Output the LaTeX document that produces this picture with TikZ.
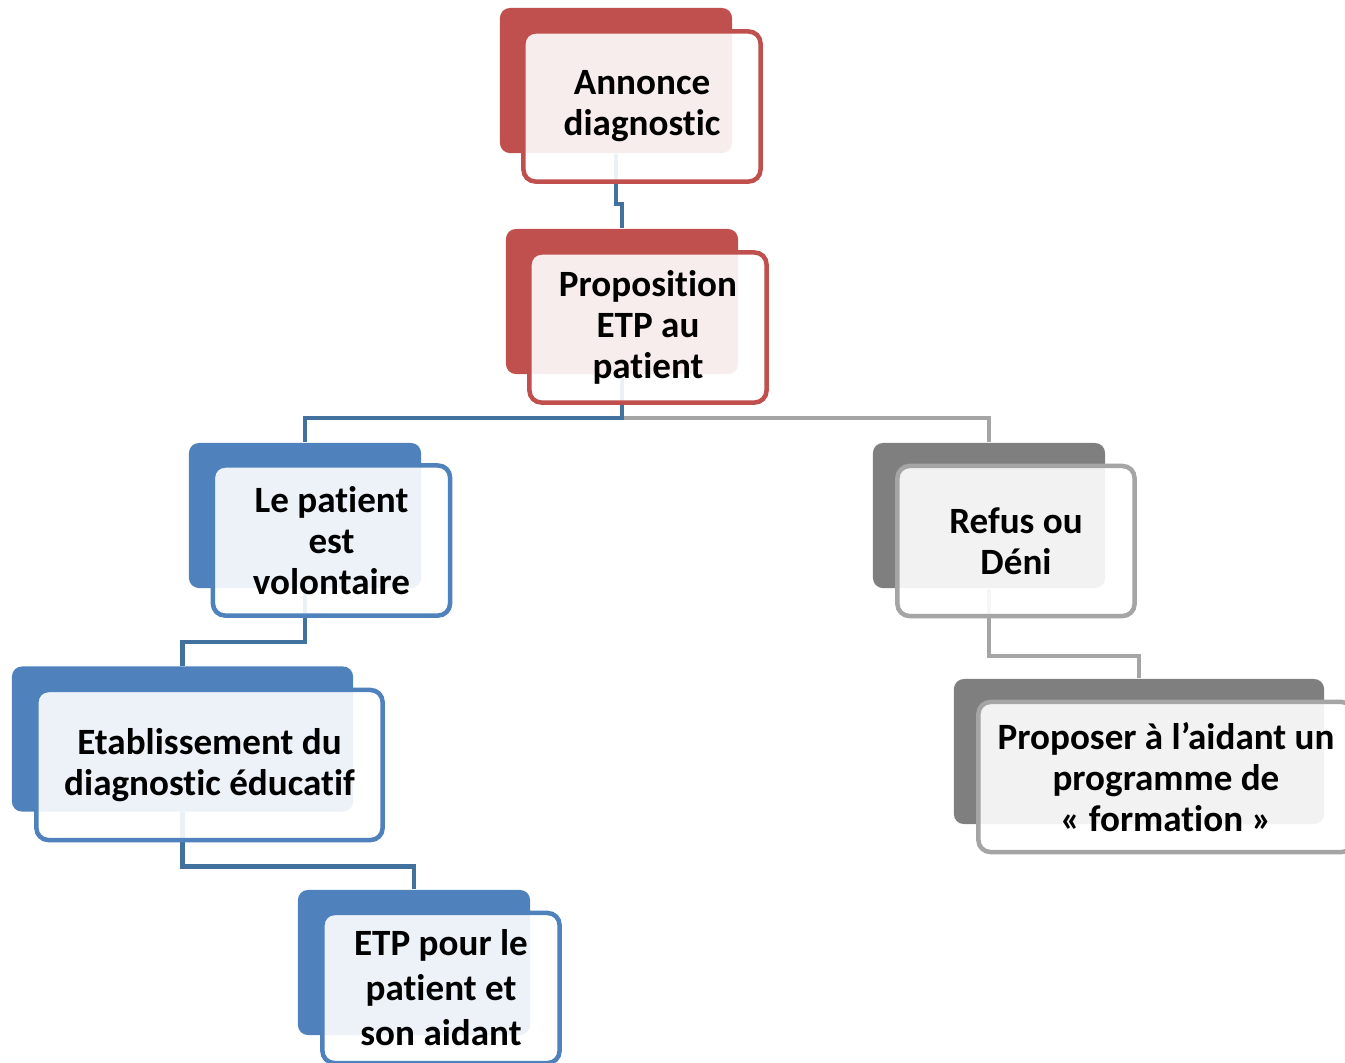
\documentclass[tikz,border=0pt]{standalone}
\usepackage{fontspec}
\setmainfont{Carlito}[RawFeature=-liga]
\definecolor{cred}{HTML}{C0504D}
\definecolor{cblue}{HTML}{4F81BD}
\definecolor{cblueline}{HTML}{41719C}
\definecolor{cgray}{HTML}{7F7F7F}
\definecolor{cgrayline}{HTML}{A5A5A5}
\begin{document}
\begin{tikzpicture}
        [x=0.01cm, y=-0.01cm,
         back_style/.style={rectangle,rounded corners=0.1cm,inner sep=0pt,minimum width=2.32cm,minimum height=1.45cm},
         back_red/.style={back_style,fill=cred},
         back_blue/.style={back_style,fill=cblue},
         back_gray/.style={back_style,fill=cgray},
         front_style/.style={rectangle,rounded corners=0.12cm,line width=0.045cm,fill=white,fill opacity=0.9,text opacity=1,
                             inner sep=0pt,minimum width=2.37cm,minimum height=1.50cm,align=center,
                             font=\fontsize{10.55}{11.7}\selectfont\bfseries},
         front_red/.style={front_style,draw=cred},
         front_blue/.style={front_style,draw=cblue},
         front_gray/.style={front_style,draw=cgrayline},
         edge_blue/.style={draw=cblueline,line width=0.045cm},
         edge_gray/.style={draw=cgrayline,line width=0.045cm}]
            \useasboundingbox (0,0) rectangle (1345,1062);
            % back boxes
            \node[back_red] (b_annonce) at (616,80.5) {};
            \node[back_red] (b_propos) at (622,301.5) {};
            \node[back_blue] (b_patient) at (305,515.5) {};
            \node[back_gray] (b_refus) at (989,515.5) {};
            \node[back_blue,minimum width=3.41cm] (b_etab) at (182.5,739) {};
            \node[back_blue] (b_etp) at (414,962.5) {};
            \node[back_gray,minimum width=3.70cm] (b_aidant) at (1139,751.5) {};
            % connectors
            \draw[edge_blue] (b_annonce.south) -- ++(0,50) -| (b_propos.north);
            \draw[edge_gray] (b_propos.south) -- ++(0,43) -| (b_refus.north);
            \draw[edge_blue] (b_propos.south) -- ++(0,43) -| (b_patient.north);
            \draw[edge_blue] (b_patient.south) -- ++(0,53) -| (b_etab.north);
            \draw[edge_blue] (b_etab.south) -- ++(0,54) -| (b_etp.north);
            \draw[edge_gray] (b_refus.south) -- ++(0,67) -| (b_aidant.north);
            % front boxes
            \node[front_red] (annonce) at (642,106.5) {Annonce\\diagnostic};
            \node[front_red] (propos) at (648,327.5) {Proposition\\ETP au\\patient};
            \node[front_blue] (patient) at (331.5,540.5) {Le patient\\est\\volontaire};
            \node[front_gray] (refus) at (1016,541) {Refus ou\\Déni};
            \node[front_blue,minimum width=3.46cm] (etab) at (209.5,765) {Etablissement du\\diagnostic éducatif};
            \node[front_blue,font=\fontsize{10.55}{12.8}\selectfont\bfseries] (etp) at (441,988) {ETP pour le\\patient et\\son aidant};
            \node[front_gray,minimum width=3.75cm] (aidant) at (1166,777) {Proposer à l’aidant un\\programme de\\«~formation~»};
        \end{tikzpicture}
\end{document}
